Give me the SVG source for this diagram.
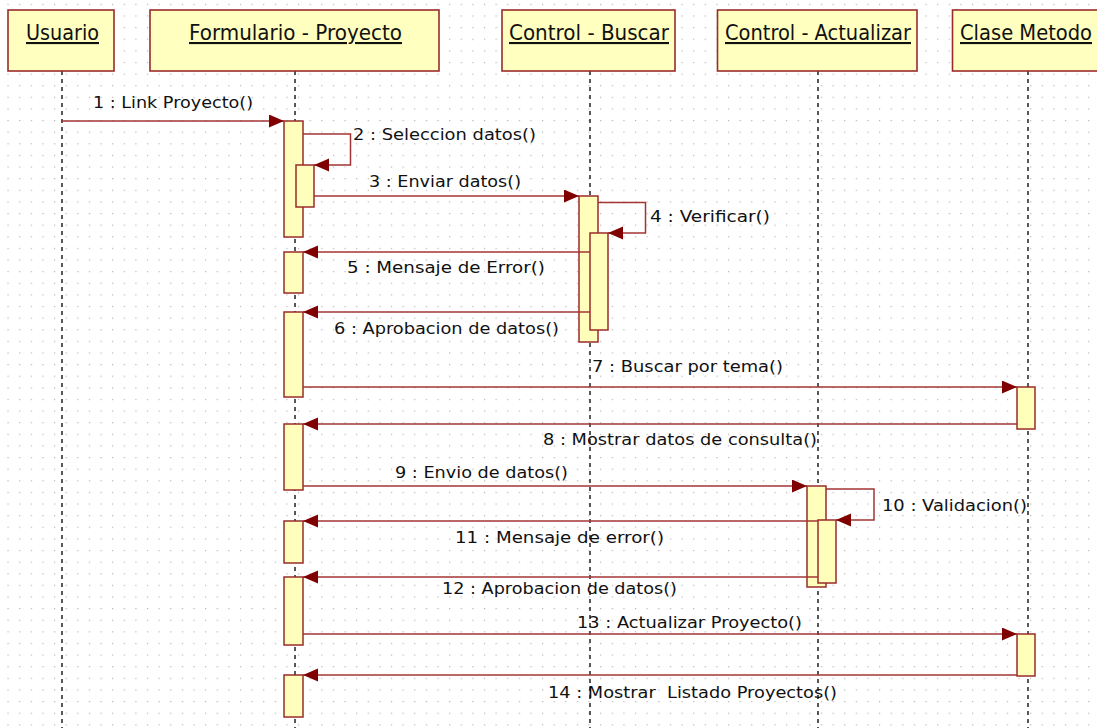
<svg xmlns="http://www.w3.org/2000/svg" width="1097" height="728" viewBox="0 0 1097 728">
<defs>
<pattern id="grid" patternUnits="userSpaceOnUse" x="7.5" y="3.8" width="11.62" height="11.62">
<rect x="0" y="0" width="1.2" height="1.2" fill="#b5b5b5"/>
</pattern>
<marker id="arr" markerUnits="userSpaceOnUse" markerWidth="16" markerHeight="14" refX="15" refY="6.5" orient="auto">
<path d="M0,0 L15,6.5 L0,13 z" fill="#800000"/>
</marker>
<style>
.box{fill:#ffffbf;stroke:#9b2b2b;stroke-width:1.6}
.act{fill:#ffffbb;stroke:#9b2b2b;stroke-width:1.5}
.life{stroke:#222;stroke-width:1.5;stroke-dasharray:4 4;fill:none}
.msg{stroke:#a33434;stroke-width:1.5;fill:none;marker-end:url(#arr)}
.hd{font-family:"DejaVu Sans",sans-serif;font-size:21px;fill:#111;text-decoration:underline}
.lb{font-family:"DejaVu Sans",sans-serif;font-size:16px;fill:#111}
</style>
</defs>
<rect width="1097" height="728" fill="#ffffff"/>
<rect width="1097" height="728" fill="url(#grid)"/>

<g id="lifelines">
<line class="life" x1="62" y1="71" x2="62" y2="728"/>
<line class="life" x1="295" y1="71" x2="295" y2="728"/>
<line class="life" x1="590" y1="71" x2="590" y2="728"/>
<line class="life" x1="818" y1="71" x2="818" y2="728"/>
<line class="life" x1="1028" y1="71" x2="1028" y2="728"/>
</g>

<g id="node-usuario">
<rect class="box" x="8" y="10" width="106" height="61"/>
<text class="hd" x="26" y="40" textLength="73" lengthAdjust="spacingAndGlyphs">Usuario</text>
</g>
<g id="node-formulario">
<rect class="box" x="150" y="10" width="289" height="61"/>
<text class="hd" x="189" y="40" textLength="213" lengthAdjust="spacingAndGlyphs">Formulario - Proyecto</text>
<rect class="act" x="284" y="121" width="19" height="116"/>
<rect class="act" x="296" y="165" width="18" height="42"/>
<rect class="act" x="284" y="252" width="19" height="41"/>
<rect class="act" x="284" y="312" width="19" height="85"/>
<rect class="act" x="284" y="424" width="19" height="66"/>
<rect class="act" x="284" y="521" width="19" height="42"/>
<rect class="act" x="284" y="577" width="19" height="68"/>
<rect class="act" x="284" y="675" width="19" height="42"/>
</g>
<g id="node-buscar">
<rect class="box" x="502" y="10" width="173" height="61"/>
<text class="hd" x="509" y="40" textLength="160" lengthAdjust="spacingAndGlyphs">Control - Buscar</text>
<rect class="act" x="579" y="196" width="19" height="146"/>
<rect class="act" x="590" y="233" width="18" height="97"/>
</g>
<g id="node-actualizar">
<rect class="box" x="717.5" y="10" width="199.5" height="61"/>
<text class="hd" x="725" y="40" textLength="186" lengthAdjust="spacingAndGlyphs">Control - Actualizar</text>
<rect class="act" x="807" y="486" width="19" height="101"/>
<rect class="act" x="818" y="520" width="18" height="63"/>
</g>
<g id="node-clase">
<rect class="box" x="952.5" y="10" width="150" height="61"/>
<text class="hd" x="960" y="40" textLength="132" lengthAdjust="spacingAndGlyphs">Clase Metodo</text>
<rect class="act" x="1017" y="387" width="18" height="42"/>
<rect class="act" x="1017" y="634" width="18" height="42"/>
</g>

<g id="connectors">
<line class="msg" x1="62" y1="121" x2="284" y2="121"/>
<path class="msg" d="M303,134 H350.5 V165 H314"/>
<line class="msg" x1="314" y1="196" x2="579" y2="196"/>
<path class="msg" d="M598,202.5 H645.5 V233 H608"/>
<line class="msg" x1="590" y1="252" x2="303" y2="252"/>
<line class="msg" x1="590" y1="312" x2="303" y2="312"/>
<line class="msg" x1="303" y1="387" x2="1017" y2="387"/>
<line class="msg" x1="1017" y1="424" x2="303" y2="424"/>
<line class="msg" x1="303" y1="486" x2="807" y2="486"/>
<path class="msg" d="M826,489 H874 V520 H836"/>
<line class="msg" x1="818" y1="521" x2="303" y2="521"/>
<line class="msg" x1="818" y1="577" x2="303" y2="577"/>
<line class="msg" x1="303" y1="634" x2="1017" y2="634"/>
<line class="msg" x1="1017" y1="675" x2="303" y2="675"/>
</g>

<g id="labels">
<text class="lb" x="93" y="108" textLength="160" lengthAdjust="spacingAndGlyphs">1 : Link Proyecto()</text>
<text class="lb" x="353" y="140" textLength="183" lengthAdjust="spacingAndGlyphs">2 : Seleccion datos()</text>
<text class="lb" x="369" y="187" textLength="152" lengthAdjust="spacingAndGlyphs">3 : Enviar datos()</text>
<text class="lb" x="650" y="222" textLength="120" lengthAdjust="spacingAndGlyphs">4 : Verificar()</text>
<text class="lb" x="347" y="273" textLength="198" lengthAdjust="spacingAndGlyphs">5 : Mensaje de Error()</text>
<text class="lb" x="334" y="334" textLength="225" lengthAdjust="spacingAndGlyphs">6 : Aprobacion de datos()</text>
<text class="lb" x="592" y="372" textLength="191" lengthAdjust="spacingAndGlyphs">7 : Buscar por tema()</text>
<text class="lb" x="543" y="445" textLength="274" lengthAdjust="spacingAndGlyphs">8 : Mostrar datos de consulta()</text>
<text class="lb" x="395" y="478" textLength="173" lengthAdjust="spacingAndGlyphs">9 : Envio de datos()</text>
<text class="lb" x="882" y="511" textLength="145" lengthAdjust="spacingAndGlyphs">10 : Validacion()</text>
<text class="lb" x="455" y="543" textLength="209" lengthAdjust="spacingAndGlyphs">11 : Mensaje de error()</text>
<text class="lb" x="442" y="594" textLength="235" lengthAdjust="spacingAndGlyphs">12 : Aprobacion de datos()</text>
<text class="lb" x="577" y="628" textLength="225" lengthAdjust="spacingAndGlyphs">13 : Actualizar Proyecto()</text>
<text class="lb" x="548" y="698" textLength="289" lengthAdjust="spacingAndGlyphs" xml:space="preserve">14 : Mostrar  Listado Proyectos()</text>
</g>
</svg>
